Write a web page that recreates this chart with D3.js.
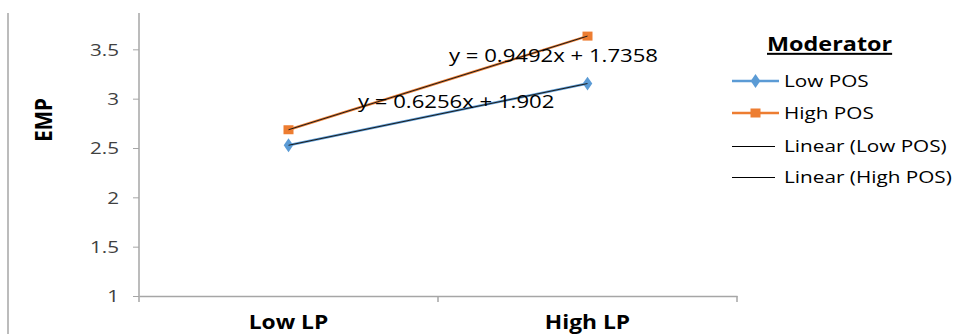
<!DOCTYPE html>
<html>
<head>
<meta charset="utf-8">
<script src="https://cdn.jsdelivr.net/npm/d3@7"></script>
<style>
  html, body { margin: 0; padding: 0; background: #fff; }
  svg { display: block; font-family: "Open Sans", sans-serif; }
</style>
</head>
<body>
<svg id="chart" width="962" height="334"></svg>
<script>
// Interaction plot: EMP by LP level, moderated by POS
const categories = ["Low LP", "High LP"];
const lowPOS = [2.5276, 3.1532];
const highPOS = [2.685, 3.6342];
const seriesNames = ["Low POS", "High POS"];
const trendNames = ["Linear (Low POS)", "Linear (High POS)"];
const equations = ["y = 0.6256x + 1.902", "y = 0.9492x + 1.7358"];
const slopes = [0.6256, 0.9492];
const intercepts = [1.902, 1.7358];
const yTicks = [1, 1.5, 2, 2.5, 3, 3.5];
const colors = ["#5B9BD5", "#ED7D31"];

const svg = d3.select("#chart");
const WIDE = 1.22; // horizontal text widening

const plot = { left: 139, right: 737, top: 0, bottom: 296 };

const x = d3.scaleBand().domain(categories).range([plot.left, plot.right]);
const y = d3.scaleLinear().domain([1, 4]).range([plot.bottom, plot.top]);
const cx = c => x(c) + x.bandwidth() / 2;

// text helper: widened glyphs anchored at (px, py)
function label(parent, px, py, str, opts = {}) {
  const t = parent.append("text")
    .attr("transform", `translate(${px},${py}) scale(${opts.sx || WIDE},1)`)
    .attr("text-anchor", opts.anchor || "start")
    .style("font-size", (opts.size || 17) + "px")
    .style("font-weight", opts.bold ? "bold" : "normal")
    .attr("fill", opts.fill || "#000")
    .text(str);
  if (opts.dy) t.attr("dy", opts.dy);
  return t;
}

// outer frame edge
svg.append("line")
  .attr("x1", 8).attr("x2", 8).attr("y1", 13).attr("y2", 334)
  .attr("stroke", "#a6a6a6").attr("stroke-width", 1.5);

// y axis
const yAxis = svg.append("g")
  .attr("transform", `translate(${plot.left},0)`)
  .call(d3.axisLeft(y).tickValues(yTicks).tickFormat(d3.format("")).tickSize(6).tickSizeOuter(0));
yAxis.select(".domain").attr("d", `M0,13V${plot.bottom}`).attr("stroke", "#a6a6a6").attr("stroke-width", 1.5);
yAxis.selectAll(".tick line").attr("stroke", "#a6a6a6");
yAxis.selectAll(".tick text")
  .attr("x", 0).attr("dy", "0.36em")
  .attr("transform", "translate(-20,0) scale(1.25,1)")
  .attr("fill", "#404040")
  .style("font-size", "16.5px").style("font-family", "'Open Sans', sans-serif");

// x axis
const xAxis = svg.append("g")
  .attr("transform", `translate(0,${plot.bottom})`)
  .call(d3.axisBottom(x).tickSize(0).tickSizeOuter(0).tickFormat(""));
xAxis.select(".domain").attr("stroke", "#a6a6a6").attr("stroke-width", 1.5);
// category separators
const bounds = [plot.left, x(categories[1]), plot.right];
xAxis.selectAll("line.sep").data(bounds).enter().append("line")
  .attr("class", "sep")
  .attr("x1", d => d).attr("x2", d => d).attr("y1", 0).attr("y2", 6)
  .attr("stroke", "#a6a6a6").attr("stroke-width", 1.5);
categories.forEach(c => {
  label(svg, cx(c), 329, c, { anchor: "middle", size: 19, bold: true, sx: 1.2 });
});

// y axis title
svg.append("text")
  .attr("transform", "translate(52,120) rotate(-90) scale(1,1.15)")
  .attr("text-anchor", "middle")
  .style("font-size", "20.5px").style("font-weight", "bold")
  .text("EMP");

// series
const series = [lowPOS, highPOS];
const line = d3.line().x((d, i) => cx(categories[i])).y(d => y(d));

series.forEach((vals, s) => {
  svg.append("path").datum(vals)
    .attr("d", line).attr("fill", "none")
    .attr("stroke", colors[s]).attr("stroke-width", 2.5);
});

// markers
svg.selectAll("path.diamond").data(lowPOS).enter().append("path")
  .attr("class", "diamond")
  .attr("d", d3.symbol().type(d3.symbolDiamond).size(55))
  .attr("transform", (d, i) => `translate(${cx(categories[i])},${y(d)}) scale(1.2,1)`)
  .attr("fill", colors[0]);
svg.selectAll("rect.square").data(highPOS).enter().append("rect")
  .attr("class", "square")
  .attr("x", (d, i) => cx(categories[i]) - 5).attr("y", d => y(d) - 4.5)
  .attr("width", 10).attr("height", 9)
  .attr("fill", colors[1]);

// linear trendlines (x = 1, 2 for the two categories)
slopes.forEach((m, s) => {
  const pts = categories.map((c, i) => [cx(c), y(m * (i + 1) + intercepts[s])]);
  svg.append("path")
    .attr("d", d3.line()(pts))
    .attr("fill", "none").attr("stroke", "#1a1a1a").attr("stroke-width", 1);
});

// trendline equations
label(svg, 358, 108, equations[0], { size: 18, sx: 1.23 });
label(svg, 449, 62, equations[1], { size: 18, sx: 1.23 });

// legend
const lg = svg.append("g");
label(lg, 767, 51, "Moderator", { size: 20, bold: true, sx: 1.17 })
  .attr("text-decoration", "underline");

const items = [
  { name: seriesNames[0], color: colors[0], mark: "diamond", w: 2.5 },
  { name: seriesNames[1], color: colors[1], mark: "square", w: 2.5 },
  { name: trendNames[0], color: "#000", mark: null, w: 1 },
  { name: trendNames[1], color: "#000", mark: null, w: 1 }
];
const rowY = [81, 113, 146, 177];
items.forEach((it, i) => {
  const yy = rowY[i];
  const ly = it.mark ? yy : yy + 0.5;
  lg.append("line").attr("x1", 732).attr("x2", it.mark ? 779 : 775).attr("y1", ly).attr("y2", ly)
    .attr("stroke", it.color).attr("stroke-width", it.w);
  if (it.mark === "diamond") {
    lg.append("path").attr("d", d3.symbol().type(d3.symbolDiamond).size(55))
      .attr("transform", `translate(755.5,${yy}) scale(1.2,1)`).attr("fill", it.color);
  } else if (it.mark === "square") {
    lg.append("rect").attr("x", 750.5).attr("y", yy - 4.5).attr("width", 10).attr("height", 9)
      .attr("fill", it.color);
  }
  label(lg, 784, yy, it.name, { size: 17, sx: 1.22, dy: "0.36em" });
});
</script>
</body>
</html>
